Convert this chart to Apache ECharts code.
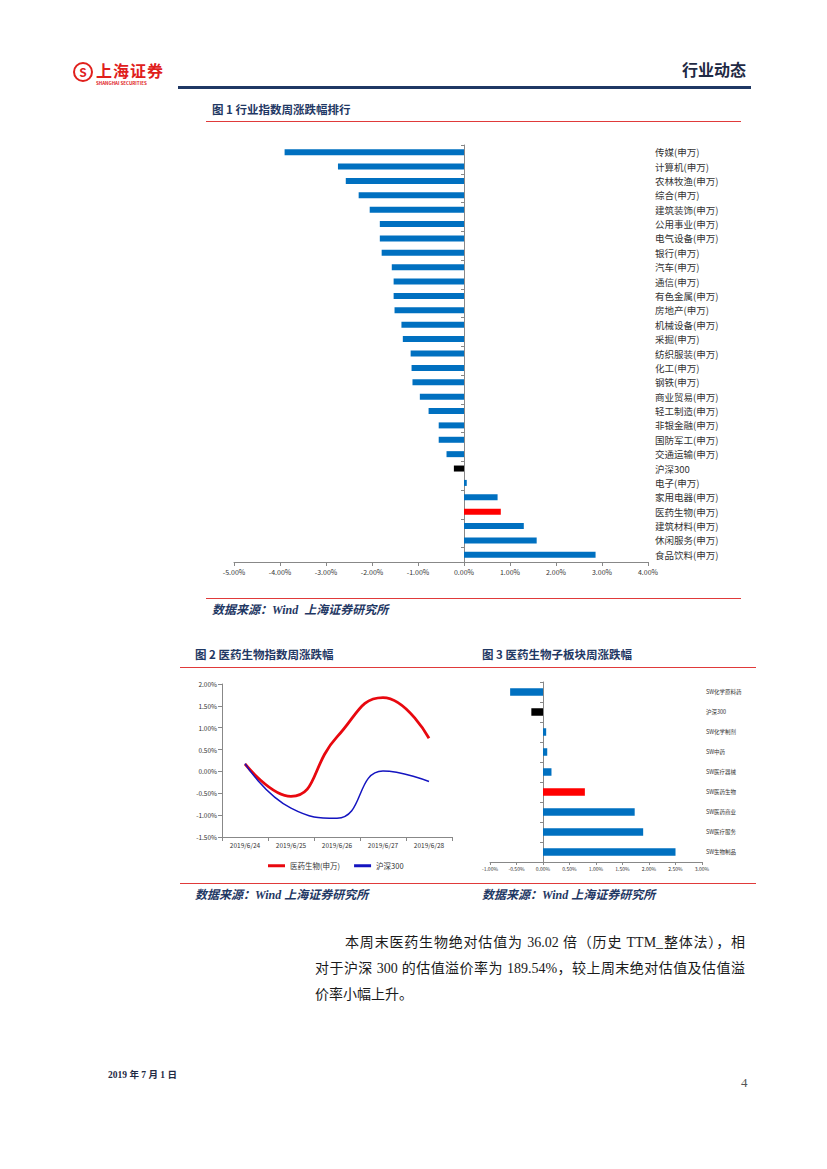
<!DOCTYPE html>
<html><head><meta charset="utf-8">
<script src="https://cdn.jsdelivr.net/npm/echarts@6/dist/echarts.min.js"></script>
<style>
html,body{margin:0;padding:0;background:#fff;}
#page{position:relative;width:827px;height:1169px;overflow:hidden;font-family:"Noto Sans CJK SC",sans-serif;}
#chart{position:absolute;left:0;top:0;width:827px;height:1169px;}
.abs{position:absolute;white-space:nowrap;line-height:1;}
.hl{position:absolute;}
.title{font-weight:bold;color:#1F3864;font-size:11.5px;}
.src{font-weight:bold;font-style:italic;color:#1F3864;font-size:12px;font-family:"Liberation Serif","Noto Sans CJK SC",serif;}
.para{position:absolute;font-size:14px;color:#1a1a1a;font-family:"Liberation Serif","Noto Sans CJK SC",serif;line-height:16px;white-space:nowrap;}
.just{text-align:justify;text-align-last:justify;}
</style></head>
<body>
<div id="page">
  <div id="chart"></div>
  <!-- header -->
  <div class="abs" style="left:73px;top:62px;width:20px;height:20px;border:2.5px solid #E0201C;border-radius:50%;box-sizing:border-box;color:#E0201C;font-size:12px;font-weight:bold;text-align:center;line-height:15px;">S</div>
  <div class="abs" style="left:96px;top:62px;color:#E0201C;font-size:16px;font-weight:bold;letter-spacing:1px;">上海证券</div>
  <div class="abs" style="left:96px;top:81px;color:#E0201C;font-size:4.5px;font-weight:bold;">SHANGHAI SECURITIES</div>
  <div class="abs" style="left:682px;top:61px;color:#1F2A44;font-size:16px;font-weight:bold;">行业动态</div>
  <div class="hl" style="left:178px;top:86px;width:573px;height:3px;background:#1F3864;"></div>

  <div class="abs title" style="left:212px;top:104px;">图 1 行业指数周涨跌幅排行</div>
  <div class="hl" style="left:206px;top:121px;width:535px;height:1px;background:#E03A3A;"></div>
  <div class="hl" style="left:206px;top:598px;width:535px;height:1px;background:#E03A3A;"></div>
  <div class="abs src" style="left:212px;top:604px;">数据来源：Wind&nbsp; 上海证券研究所</div>

  <div class="abs title" style="left:195px;top:649px;">图 2 医药生物指数周涨跌幅</div>
  <div class="abs title" style="left:482px;top:649px;">图 3 医药生物子板块周涨跌幅</div>
  <div class="hl" style="left:180px;top:667px;width:576px;height:1px;background:#E03A3A;"></div>
  <div class="hl" style="left:180px;top:883px;width:576px;height:1px;background:#E03A3A;"></div>
  <div class="abs src" style="left:195px;top:889px;">数据来源：Wind 上海证券研究所</div>
  <div class="abs src" style="left:482px;top:889px;">数据来源：Wind 上海证券研究所</div>

  <div class="para just" style="left:345px;top:935px;width:400px;">本周末医药生物绝对估值为 36.02 倍（历史 TTM_整体法），相</div>
  <div class="para just" style="left:315px;top:961px;width:430px;">对于沪深 300 的估值溢价率为 189.54%，较上周末绝对估值及估值溢</div>
  <div class="para" style="left:315px;top:987px;">价率小幅上升。</div>

  <div class="abs" style="left:108px;top:1071px;font-size:9.5px;font-weight:bold;color:#1F2A44;font-family:'Liberation Serif','Noto Sans CJK SC',serif;">2019 年 7 月 1 日</div>
  <div class="abs" style="left:741px;top:1076px;font-size:13px;color:#555;font-family:'Liberation Serif',serif;">4</div>
</div>
<script>
// ---------- Data ----------
const industryCats = ['传媒(申万)','计算机(申万)','农林牧渔(申万)','综合(申万)','建筑装饰(申万)','公用事业(申万)','电气设备(申万)','银行(申万)','汽车(申万)','通信(申万)','有色金属(申万)','房地产(申万)','机械设备(申万)','采掘(申万)','纺织服装(申万)','化工(申万)','钢铁(申万)','商业贸易(申万)','轻工制造(申万)','非银金融(申万)','国防军工(申万)','交通运输(申万)','沪深300','电子(申万)','家用电器(申万)','医药生物(申万)','建筑材料(申万)','休闲服务(申万)','食品饮料(申万)'];
const industryVals = [-3.90,-2.74,-2.57,-2.29,-2.05,-1.83,-1.83,-1.79,-1.57,-1.53,-1.53,-1.51,-1.36,-1.33,-1.16,-1.14,-1.12,-0.96,-0.77,-0.55,-0.55,-0.38,-0.22,0.06,0.73,0.80,1.30,1.58,2.86];

const dates = ['2019/6/24','2019/6/25','2019/6/26','2019/6/27','2019/6/28'];
const pharmaVals = [0.17,-0.57,0.79,1.69,0.76];
const hs300Vals = [0.18,-0.84,-1.07,0.01,-0.23];
const lineNames = ['医药生物(申万)','沪深300'];

const subCats = ['SW化学原料药','沪深300','SW化学制剂','SW中药','SW医疗器械','SW医药生物','SW医药商业','SW医疗服务','SW生物制品'];
const subVals = [-0.62,-0.22,0.06,0.08,0.16,0.79,1.73,1.89,2.50];

// ---------- Chart ----------
const BLUE = '#0070C0', GRAY = '#888888';
const RED_LINE = '#E8080F', BLUE_LINE = '#1414C0';
function colorFor(name){
  if (name === '沪深300') return '#000000';
  if (name.indexOf('医药生物') >= 0) return '#FF0000';
  return BLUE;
}
const pct2 = v => v.toFixed(2) + '%';

const chart = echarts.init(document.getElementById('chart'), null, {renderer:'svg'});
const option = {
  animation:false,
  backgroundColor:'transparent',
  textStyle:{fontFamily:'"Noto Sans CJK SC", sans-serif'},
  grid:[
    {left:234, top:145, width:414, height:417},
    {left:222, top:684, width:230, height:153},
    {left:490, top:682, width:212, height:180}
  ],
  legend:{
    left:263, top:857, itemWidth:17, itemGap:14,
    data:[
      {name:lineNames[0], icon:'rect', itemStyle:{color:RED_LINE}},
      {name:lineNames[1], icon:'rect', itemStyle:{color:BLUE_LINE}}
    ],
    itemHeight:3,
    textStyle:{fontSize:7.5, color:'#333'}
  },
  xAxis:[
    {gridIndex:0, type:'value', min:-5, max:4, interval:1,
     axisLine:{show:true, onZero:false, lineStyle:{color:GRAY}},
     axisTick:{show:true, length:4, lineStyle:{color:GRAY}},
     splitLine:{show:false},
     axisLabel:{fontSize:7, color:'#333', margin:6, formatter:pct2}},
    {gridIndex:1, type:'category', data:dates, boundaryGap:true,
     axisLine:{show:true, onZero:false, lineStyle:{color:GRAY}},
     axisTick:{show:true, length:4, lineStyle:{color:GRAY}},
     axisLabel:{fontSize:6.5, color:'#333', margin:5}},
    {gridIndex:2, type:'value', min:-1, max:3, interval:0.5,
     axisLine:{show:true, onZero:false, lineStyle:{color:GRAY}},
     axisTick:{show:true, length:3, lineStyle:{color:GRAY}},
     splitLine:{show:false},
     axisLabel:{fontSize:5, color:'#333', margin:4, formatter:pct2}}
  ],
  yAxis:[
    {gridIndex:0, type:'category', data:industryCats, inverse:true,
     axisLine:{show:true, onZero:true, lineStyle:{color:GRAY}},
     axisTick:{show:true, length:3, lineStyle:{color:GRAY}},
     axisLabel:{show:false}},
    {gridIndex:0, type:'category', data:industryCats, inverse:true, position:'right',
     axisLine:{show:false, onZero:false}, axisTick:{show:false},
     axisLabel:{show:true, fontSize:9.5, color:'#333', margin:7}},
    {gridIndex:1, type:'value', min:-1.5, max:2, interval:0.5,
     axisLine:{show:true, lineStyle:{color:GRAY}},
     axisTick:{show:true, length:4, lineStyle:{color:GRAY}},
     splitLine:{show:false},
     axisLabel:{fontSize:6.5, color:'#333', margin:5, formatter:pct2}},
    {gridIndex:2, type:'category', data:subCats, inverse:true,
     axisLine:{show:true, onZero:true, lineStyle:{color:GRAY}},
     axisTick:{show:true, length:3, lineStyle:{color:GRAY}},
     axisLabel:{show:false}},
    {gridIndex:2, type:'category', data:subCats, inverse:true, position:'right',
     axisLine:{show:false, onZero:false}, axisTick:{show:false},
     axisLabel:{show:true, fontSize:5.5, color:'#333', margin:4}}
  ],
  series:[
    {type:'bar', xAxisIndex:0, yAxisIndex:0, barWidth:6,
     data:industryVals.map((v,i)=>({value:v, itemStyle:{color:colorFor(industryCats[i])}}))},
    {name:lineNames[0], type:'line', xAxisIndex:1, yAxisIndex:2, data:pharmaVals,
     smooth:0.5, symbol:'none', lineStyle:{width:2.8, color:RED_LINE}, itemStyle:{color:RED_LINE}},
    {name:lineNames[1], type:'line', xAxisIndex:1, yAxisIndex:2, data:hs300Vals,
     smooth:0.5, symbol:'none', lineStyle:{width:1.5, color:BLUE_LINE}, itemStyle:{color:BLUE_LINE}},
    {type:'bar', xAxisIndex:2, yAxisIndex:3, barWidth:7.5,
     data:subVals.map((v,i)=>({value:v, itemStyle:{color:colorFor(subCats[i])}}))}
  ]
};
chart.setOption(option);
</script>
</body></html>
